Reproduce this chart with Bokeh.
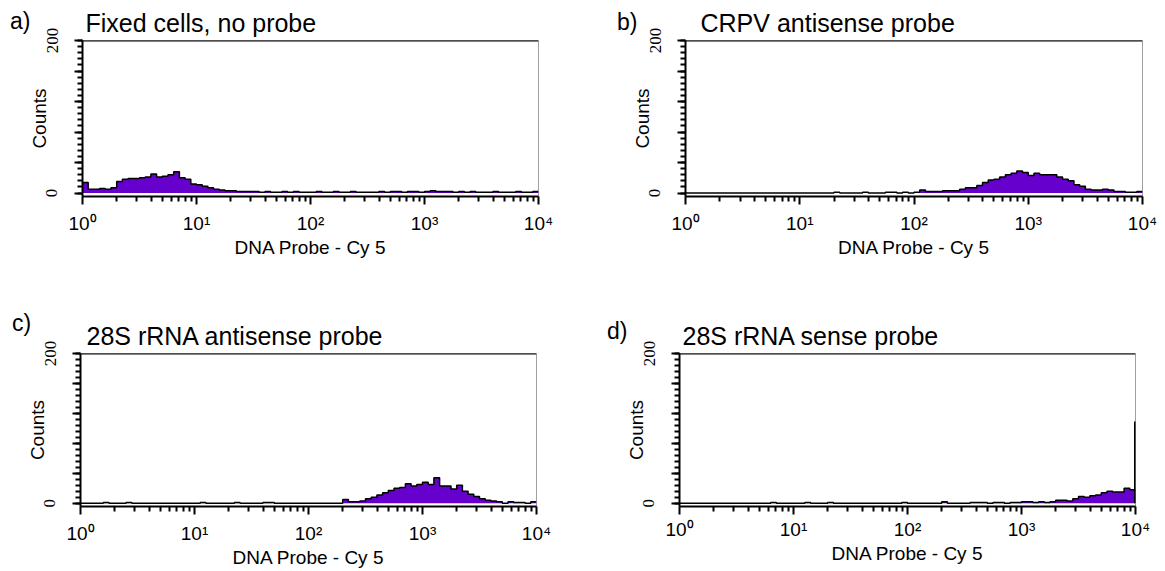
from bokeh.plotting import figure
from bokeh.models import Range1d, FixedTicker, Span, Div
from bokeh.layouts import column, row
from bokeh.embed import file_html
from bokeh.resources import INLINE

# ---------------- data ----------------
bins_per_decade = 20
n_decades = 4

panel_letters = ["a)", "b)", "c)", "d)"]
panel_titles = ["Fixed cells, no probe", "CRPV antisense probe",
                "28S rRNA antisense probe", "28S rRNA sense probe"]
x_axis_title = "DNA Probe - Cy 5"
y_axis_title = "Counts"
x_major_ticks = [1, 10, 100, 1000, 10000]
x_tick_labels = ["10\u2070", "10\u00b9", "10\u00b2", "10\u00b3", "10\u2074"]
y_major_ticks = [0, 40, 80, 120, 160, 200]
y_tick_labels = {0: "0", 200: "200"}

counts_a = [14, 5, 5, 6, 5, 7, 15, 18, 19, 19,
            20, 21, 25, 21, 22, 24, 28, 20, 18, 12,
            11, 9, 7, 5, 4, 3, 3, 2, 2, 2,
            2, 1, 2, 1, 1, 2, 1, 2, 1, 1,
            1, 2, 1, 1, 2, 1, 1, 2, 1, 1,
            1, 1, 2, 1, 2, 2, 1, 2, 2, 1,
            2, 3, 2, 2, 2, 1, 2, 1, 2, 1,
            1, 1, 2, 1, 1, 1, 2, 1, 1, 2]
counts_b = [0, 0, 0, 0, 0, 0, 0, 0, 0, 0,
            0, 0, 0, 0, 0, 0, 0, 0, 0, 0,
            0, 0, 0, 0, 0, 0, 1, 0, 0, 0,
            0, 1, 0, 0, 0, 1, 1, 0, 1, 0,
            1, 4, 2, 2, 2, 3, 3, 3, 5, 7,
            7, 10, 14, 17, 18, 21, 24, 26, 29, 27,
            23, 26, 24, 24, 24, 21, 18, 16, 11, 9,
            5, 4, 4, 5, 4, 2, 2, 1, 1, 2]
counts_c = [0, 0, 0, 0, 1, 0, 0, 0, 1, 0,
            0, 0, 0, 0, 0, 0, 0, 0, 0, 0,
            0, 1, 0, 0, 0, 0, 0, 1, 0, 0,
            0, 0, 1, 1, 0, 0, 0, 0, 0, 0,
            0, 0, 0, 0, 0, 0, 5, 2, 2, 3,
            6, 8, 11, 14, 17, 20, 21, 26, 23, 25,
            28, 25, 34, 23, 23, 19, 24, 16, 12, 9,
            6, 4, 3, 2, 0, 2, 1, 1, 0, 2]
counts_d = [0, 0, 0, 0, 0, 0, 0, 0, 0, 0,
            0, 0, 0, 0, 0, 0, 1, 0, 0, 0,
            0, 0, 1, 0, 0, 0, 1, 0, 0, 0,
            0, 0, 0, 0, 0, 0, 0, 0, 0, 1,
            0, 0, 0, 0, 0, 0, 2, 0, 0, 0,
            0, 1, 1, 1, 0, 1, 1, 0, 1, 1,
            2, 2, 1, 2, 1, 2, 4, 4, 3, 6,
            9, 8, 10, 11, 14, 16, 15, 15, 20, 18]
d_last_channel_value = 9900
d_last_channel_count = 109

# ---------------- style ----------------
FILL = "#6600cc"
FONT = "Liberation Sans"
NARROW = "Liberation Sans Narrow"

edges = [10 ** (k / bins_per_decade) for k in range(bins_per_decade * n_decades + 1)]
x_minor_ticks = [m * 10 ** k for k in range(n_decades) for m in range(2, 10)]
y_minor_ticks = list(range(0, 201, 8))


def letter_div(letter, width, height, pad_left, pad_top):
    html = ('<div style="font-family:\'Liberation Sans\',Arial,sans-serif;font-size:23px;'
            'line-height:23px;color:black;white-space:nowrap;overflow:visible;'
            'padding-left:%dpx;padding-top:%dpx;">%s</div>' % (pad_left, pad_top, letter))
    return Div(text=html, width=width, height=height, margin=0,
               styles={"overflow": "visible", "z-index": "10", "position": "relative"})


def make_panel(title, counts, width, height, left, right, top, bottom, title_dx,
               x_label_standoff=8):
    p = figure(width=width, height=height, x_axis_type="log",
               x_range=Range1d(1, 10000), y_range=Range1d(-4.5, 200),
               output_backend="svg", toolbar_location=None,
               min_border_left=left, min_border_right=right,
               min_border_top=top, min_border_bottom=bottom)
    p.grid.visible = False
    p.background_fill_color = "white"
    p.border_fill_color = None
    p.outline_line_color = "#a0a0a0"
    p.outline_line_width = 1

    p.title.text = title
    p.title.align = "left"
    p.title.offset = title_dx
    p.title.standoff = 7
    p.title.text_font = FONT
    p.title.text_font_size = "25px"
    p.title.text_font_style = "normal"
    p.title.text_color = "black"

    p.varea_step(x=edges, y1=[0] * len(edges), y2=counts + [counts[-1]],
                 step_mode="after", fill_color=FILL)
    p.step(x=edges, y=counts + [counts[-1]], mode="after",
           line_color="black", line_width=1.5)
    p.add_layout(Span(location=200, dimension="width", line_color="black", line_width=2))

    # x axis
    xa = p.xaxis[0]
    xa.ticker = FixedTicker(ticks=x_major_ticks, minor_ticks=x_minor_ticks)
    xa.major_label_overrides = dict(zip(x_major_ticks, x_tick_labels))
    xa.major_label_text_font = FONT
    xa.major_label_text_font_size = "19px"
    xa.major_label_text_color = "black"
    xa.major_label_standoff = x_label_standoff
    xa.axis_line_color = "black"
    xa.axis_line_width = 2
    xa.major_tick_out = 8
    xa.major_tick_in = 0
    xa.minor_tick_out = 5
    xa.minor_tick_in = 0
    xa.major_tick_line_width = 2
    xa.minor_tick_line_width = 2
    xa.major_tick_line_color = "black"
    xa.minor_tick_line_color = "black"
    xa.axis_label = x_axis_title
    xa.axis_label_text_font = FONT
    xa.axis_label_text_font_size = "19px"
    xa.axis_label_text_font_style = "normal"
    xa.axis_label_text_color = "black"
    xa.axis_label_standoff = 0

    # y axis
    ya = p.yaxis[0]
    ya.ticker = FixedTicker(ticks=y_major_ticks, minor_ticks=y_minor_ticks)
    ya.major_label_overrides = {t: y_tick_labels.get(t, "") for t in y_major_ticks}
    ya.major_label_orientation = "vertical"
    ya.major_label_text_font = NARROW
    ya.major_label_text_font_size = "17px"
    ya.major_label_text_color = "black"
    ya.major_label_standoff = 17
    ya.axis_line_color = "black"
    ya.axis_line_width = 2
    ya.major_tick_out = 8
    ya.major_tick_in = 0
    ya.minor_tick_out = 5
    ya.minor_tick_in = 0
    ya.major_tick_line_width = 2
    ya.minor_tick_line_width = 2
    ya.major_tick_line_color = "black"
    ya.minor_tick_line_color = "black"
    ya.axis_label = y_axis_title
    ya.axis_label_text_font = FONT
    ya.axis_label_text_font_size = "19px"
    ya.axis_label_text_font_style = "normal"
    ya.axis_label_text_color = "black"
    ya.axis_label_standoff = -6
    return p


# row 1: letter columns + panels (frame a: x 82-538, b: x 685-1142)
da = letter_div(panel_letters[0], 16, 300, 10, 10)
pa = make_panel(panel_titles[0], counts_a, 592, 300, 66, 70, 40, 103, 3)
db = letter_div(panel_letters[1], 11, 300, 9, 11)
pb = make_panel(panel_titles[1], counts_b, 545, 300, 66, 22, 38, 104, 15)

# row 2 (frame c: x 80-536, d: x 679-1135)
dc = letter_div(panel_letters[2], 14, 271, 12, 12)
pc = make_panel(panel_titles[2], counts_c, 586, 271, 66, 64, 49, 65, 6)
dd = letter_div(panel_letters[3], 13, 271, 7, 20)
pd = make_panel(panel_titles[3], counts_d, 544, 271, 66, 22, 53, 61, 3, x_label_standoff=4)
pd.segment(x0=[d_last_channel_value], y0=[0], x1=[d_last_channel_value], y1=[d_last_channel_count],
           line_color="black", line_width=2)

layout = column(row(da, pa, db, pb), row(dc, pc, dd, pd))
open("out.html", "w").write(file_html(layout, INLINE))
